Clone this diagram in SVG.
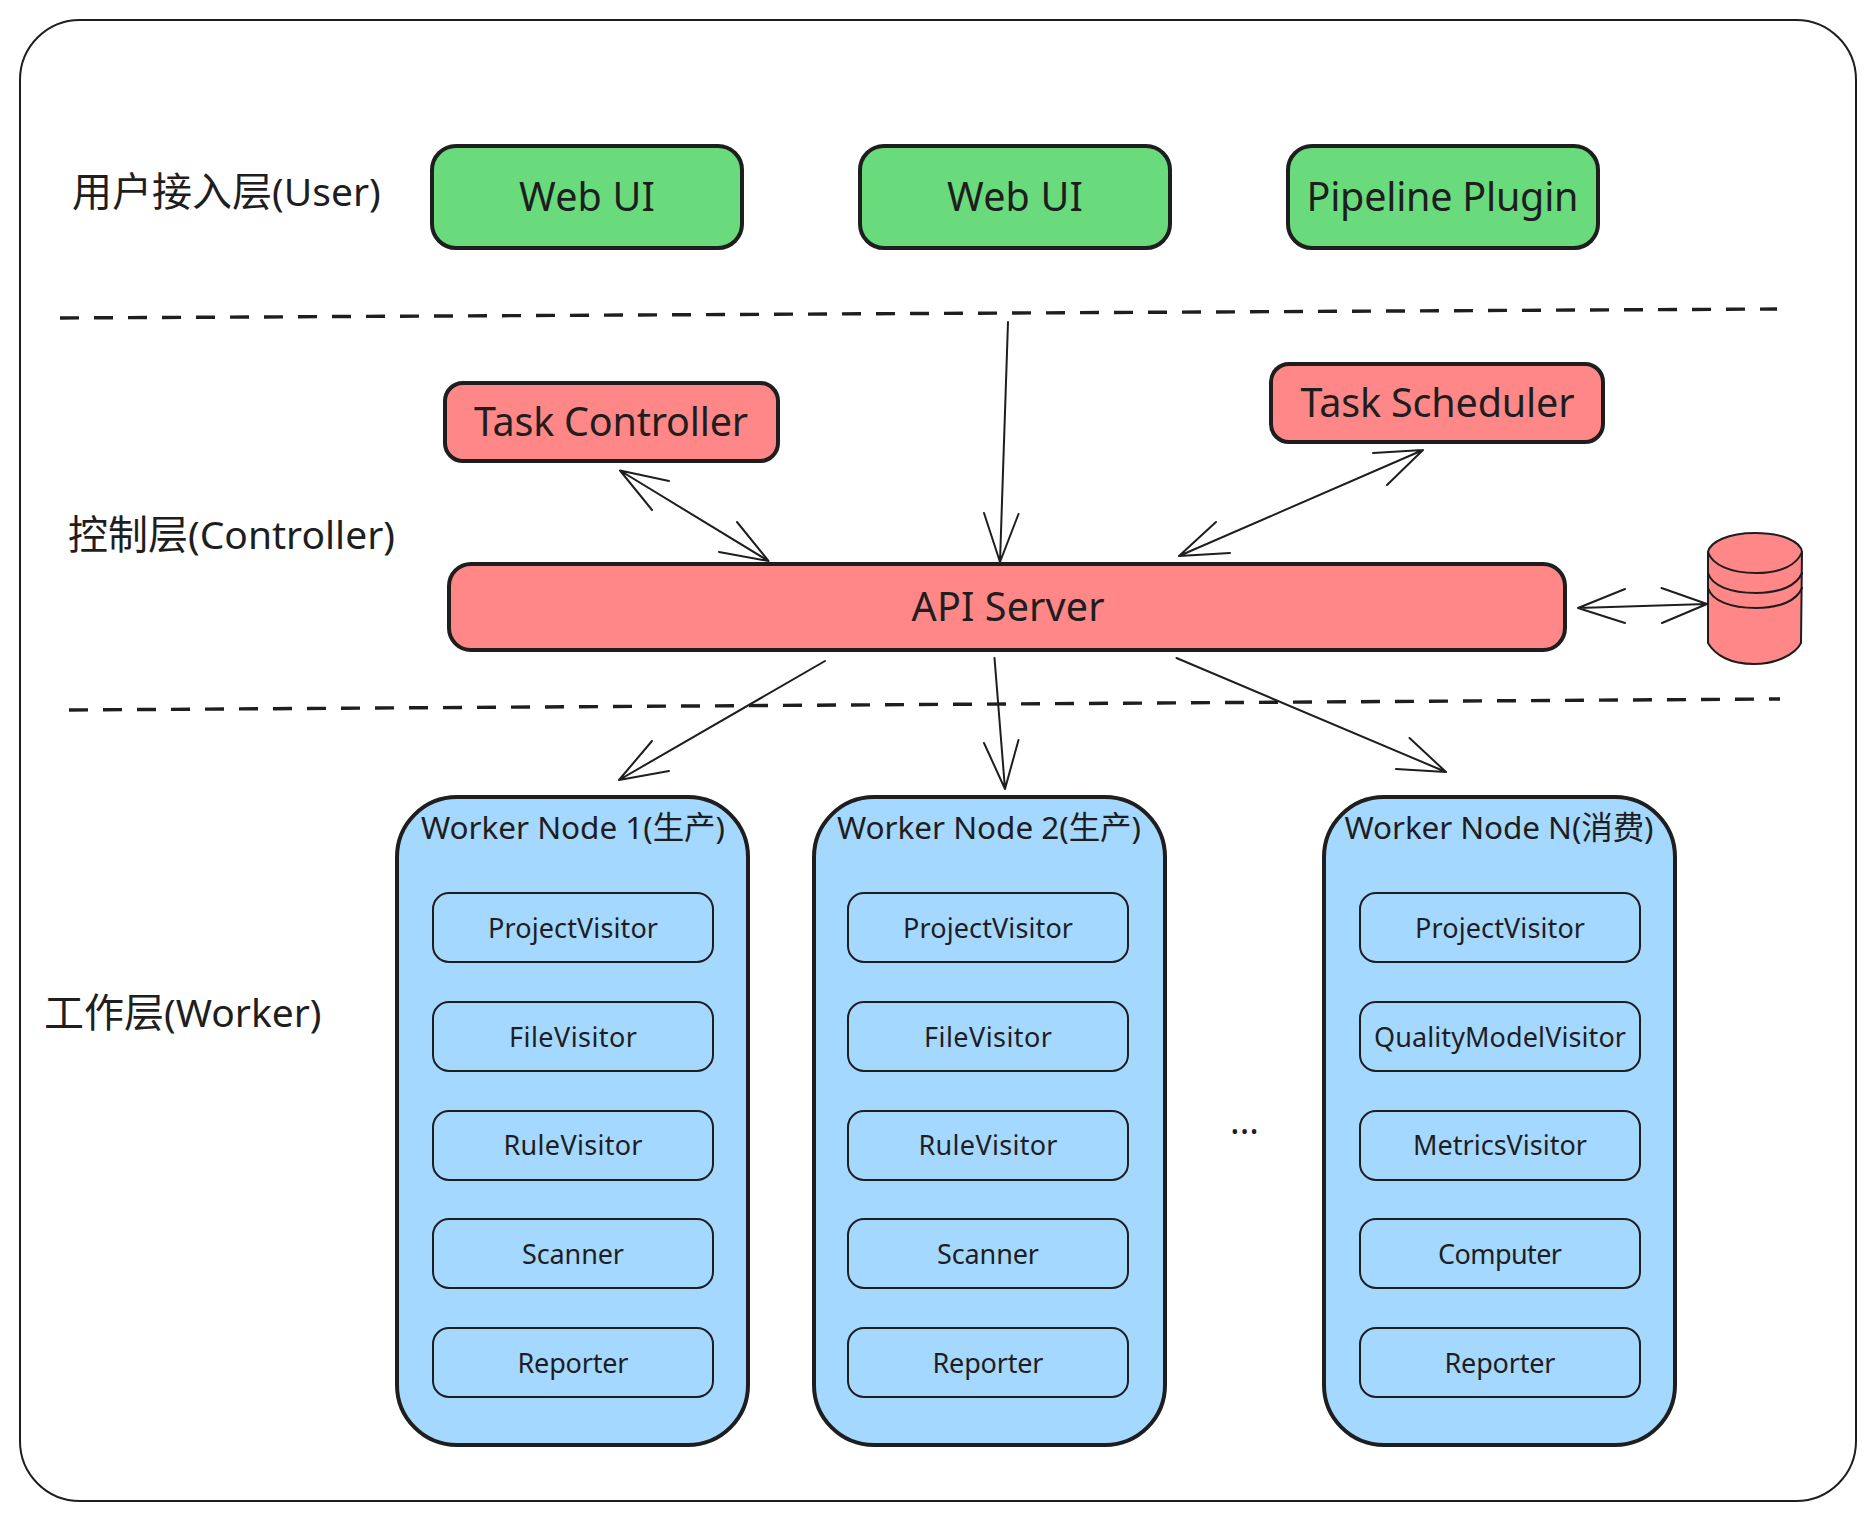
<svg xmlns="http://www.w3.org/2000/svg" width="1875" height="1520" viewBox="0 0 1875 1520">
<style>
text{font-family:"Noto Sans","Noto Sans CJK SC",sans-serif;fill:#1e1e1e;text-anchor:middle}
.lab{font-size:40px;text-anchor:start}
.lab tspan{font-size:39px}
.big{font-size:39.5px}
.wt{font-size:31.5px}
.it{font-size:27px}
.g{fill:#69db7c;stroke:#1e1e1e;stroke-width:4}
.r{fill:#ff8787;stroke:#1e1e1e;stroke-width:4}
.w{fill:#a5d8ff;stroke:#1e1e1e;stroke-width:4}
.i{fill:#a5d8ff;stroke:#1e1e1e;stroke-width:2}
.c{fill:none;stroke:#1e1e1e;stroke-width:2;stroke-linecap:round;stroke-linejoin:round}
.d{fill:none;stroke:#1e1e1e;stroke-width:3.4;stroke-dasharray:19 15}
</style>
<rect id="frame" x="20" y="20" width="1836" height="1481" rx="60" fill="#fff" stroke="#1e1e1e" stroke-width="2"/>
<g id="label-user"><text class="lab" x="72" y="205.500">用户接入层<tspan>(User)</tspan></text></g>
<g id="label-controller"><text class="lab" x="68" y="548.500">控制层<tspan>(Controller)</tspan></text></g>
<g id="label-worker"><text class="lab" x="44" y="1026.500">工作层<tspan>(Worker)</tspan></text></g>
<g id="webui1"><rect class="g" x="432" y="146" width="310" height="102" rx="24"/><text class="big" x="587" y="210.500" textLength="136">Web UI</text></g>
<g id="webui2"><rect class="g" x="860" y="146" width="310" height="102" rx="24"/><text class="big" x="1015" y="210.500" textLength="136">Web UI</text></g>
<g id="pipeline"><rect class="g" x="1288" y="146" width="310" height="102" rx="24"/><text class="big" x="1442.500" y="210.500" textLength="272">Pipeline Plugin</text></g>
<g id="task-controller"><rect class="r" x="445" y="383" width="333" height="78" rx="18"/><text class="big" x="611" y="435.500" textLength="274">Task Controller</text></g>
<g id="task-scheduler"><rect class="r" x="1271" y="364" width="332" height="78" rx="18"/><text class="big" x="1437.500" y="416.500" textLength="274">Task Scheduler</text></g>
<g id="api-server"><rect class="r" x="449" y="564" width="1116" height="86" rx="22"/><text class="big" x="1008" y="620.500" textLength="193">API Server</text></g>
<g id="database"><path d="M1708 552C1710 542 1728 533 1755 533C1783 533 1801 542 1802 552L1801 643C1795 655 1775 664 1754 664C1730 664 1715 655 1708 643Z" fill="#ff8787" stroke="#1e1e1e" stroke-width="2"/><path class="c" d="M1708 552C1712 565 1731 573 1756 573C1781 573 1797 565 1802 552M1708 573C1712 586 1731 593 1756 593C1781 593 1797 585 1802 573M1708 588C1712 601 1731 608 1756 608C1781 608 1797 600 1802 588"/></g>
<g id="worker1"><rect class="w" x="397" y="797" width="351" height="648" rx="60"/><text class="wt" x="573" y="839" textLength="304">Worker Node 1(生产)</text>
<rect class="i" x="433" y="893" width="280" height="69" rx="16"/><text class="it" x="573" y="937.500" textLength="170">ProjectVisitor</text>
<rect class="i" x="433" y="1002" width="280" height="69" rx="16"/><text class="it" x="573" y="1046.500" textLength="128">FileVisitor</text>
<rect class="i" x="433" y="1111" width="280" height="69" rx="16"/><text class="it" x="573" y="1154.500" textLength="139">RuleVisitor</text>
<rect class="i" x="433" y="1219" width="280" height="69" rx="16"/><text class="it" x="573" y="1263.500" textLength="102">Scanner</text>
<rect class="i" x="433" y="1328" width="280" height="69" rx="16"/><text class="it" x="573" y="1372.500" textLength="111">Reporter</text></g>
<g id="worker2"><rect class="w" x="814" y="797" width="351" height="648" rx="60"/><text class="wt" x="989" y="839" textLength="304">Worker Node 2(生产)</text>
<rect class="i" x="848" y="893" width="280" height="69" rx="16"/><text class="it" x="988" y="937.500" textLength="170">ProjectVisitor</text>
<rect class="i" x="848" y="1002" width="280" height="69" rx="16"/><text class="it" x="988" y="1046.500" textLength="128">FileVisitor</text>
<rect class="i" x="848" y="1111" width="280" height="69" rx="16"/><text class="it" x="988" y="1154.500" textLength="139">RuleVisitor</text>
<rect class="i" x="848" y="1219" width="280" height="69" rx="16"/><text class="it" x="988" y="1263.500" textLength="102">Scanner</text>
<rect class="i" x="848" y="1328" width="280" height="69" rx="16"/><text class="it" x="988" y="1372.500" textLength="111">Reporter</text></g>
<g id="workerN"><rect class="w" x="1324" y="797" width="351" height="648" rx="60"/><text class="wt" x="1499" y="839" textLength="309">Worker Node N(消费)</text>
<rect class="i" x="1360" y="893" width="280" height="69" rx="16"/><text class="it" x="1500" y="937.500" textLength="170">ProjectVisitor</text>
<rect class="i" x="1360" y="1002" width="280" height="69" rx="16"/><text class="it" x="1500" y="1046.500" textLength="252">QualityModelVisitor</text>
<rect class="i" x="1360" y="1111" width="280" height="69" rx="16"/><text class="it" x="1500" y="1154.500" textLength="174">MetricsVisitor</text>
<rect class="i" x="1360" y="1219" width="280" height="69" rx="16"/><text class="it" x="1500" y="1263.500" textLength="124">Computer</text>
<rect class="i" x="1360" y="1328" width="280" height="69" rx="16"/><text class="it" x="1500" y="1372.500" textLength="111">Reporter</text></g>
<g id="ellipsis"><text font-size="36" x="1244.500" y="1134">...</text></g>
<g id="connectors">
<path class="d" d="M60 318L1777 309"/>
<path class="d" d="M69 710L1780 699"/>
<path class="c" d="M1008 322L1000 562M984 513L1000 562L1018.500 514"/>
<path class="c" d="M620 470.500L768.500 561M669 481L620 470.500L652 510M737 522L768.500 561L719 552"/>
<path class="c" d="M1179 556L1423 450M1373 453L1423 450L1387 485M1216 522L1179 556L1230 553"/>
<path class="c" d="M1578 608L1707 604M1625 589L1578 608L1625 623M1661.500 588L1707 604L1662 623"/>
<path class="c" d="M825 661L619 780M652 741L619 780L669 771"/>
<path class="c" d="M994.500 658L1005 789M984 743L1005 789L1018.500 740"/>
<path class="c" d="M1176.500 658L1446 772M1409.500 738L1446 772L1396 769"/>
</g>
</svg>
